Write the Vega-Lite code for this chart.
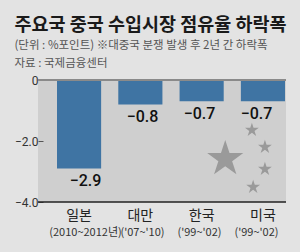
{
  "$schema": "https://vega.github.io/schema/vega-lite/v6.json",
  "width": 248,
  "height": 122,
  "autosize": {"type": "none"},
  "padding": {"left": 38, "top": 80, "right": 14, "bottom": 50},
  "background": "#e3e3e3",
  "config": {"view": {"fill": "#cfcfcf", "stroke": null}, "font": "Noto Sans CJK KR"},
  "title": {
    "text": "주요국 중국 수입시장 점유율 하락폭",
    "subtitle": ["(단위 : %포인트)  ※대중국 분쟁 발생 후 2년 간 하락폭", "자료 : 국제금융센터"],
    "anchor": "start",
    "frame": "bounds",
    "font": "Noto Sans CJK KR",
    "fontSize": 18.5,
    "fontWeight": "bold",
    "color": "#1a1a1a",
    "subtitleFont": "Noto Sans CJK KR",
    "subtitleFontSize": 11.5,
    "subtitleColor": "#555555",
    "subtitleLineHeight": 18,
    "subtitlePadding": 5,
    "offset": 5
  },
  "datasets": {
    "shares": [
      {"country": "일본", "period": "(2010~2012년)", "value": -2.9},
      {"country": "대만", "period": "('07~'10)", "value": -0.8},
      {"country": "한국", "period": "('99~'02)", "value": -0.7},
      {"country": "미국", "period": "('99~'02)", "value": -0.7}
    ],
    "bigStar": [{"px": 3.02, "py": -2.59}],
    "smallStars": [
      {"px": 3.45, "py": -1.64},
      {"px": 3.66, "py": -2.2},
      {"px": 3.66, "py": -2.92},
      {"px": 3.47, "py": -3.51}
    ]
  },
  "resolve": {"scale": {"x": "independent"}},
  "layer": [
    {
      "data": {"name": "bigStar"},
      "mark": {"type": "point", "filled": true, "opacity": 1, "color": "#9a9a9a", "size": 1444,
        "shape": "M0,-1 L0.2245,-0.309 L0.951,-0.309 L0.363,0.118 L0.588,0.809 L0,0.382 L-0.588,0.809 L-0.363,0.118 L-0.951,-0.309 L-0.2245,-0.309 Z"},
      "encoding": {
        "x": {"field": "px", "type": "quantitative", "scale": {"domain": [0, 4], "nice": false, "zero": false}, "axis": null},
        "y": {"field": "py", "type": "quantitative", "scale": {"domain": [-4, 0], "nice": false}}
      }
    },
    {
      "data": {"name": "smallStars"},
      "mark": {"type": "point", "filled": true, "opacity": 1, "color": "#9a9a9a", "size": 210,
        "shape": "M0,-1 L0.2245,-0.309 L0.951,-0.309 L0.363,0.118 L0.588,0.809 L0,0.382 L-0.588,0.809 L-0.363,0.118 L-0.951,-0.309 L-0.2245,-0.309 Z"},
      "encoding": {
        "x": {"field": "px", "type": "quantitative", "scale": {"domain": [0, 4], "nice": false, "zero": false}, "axis": null},
        "y": {"field": "py", "type": "quantitative"}
      }
    },
    {
      "data": {"name": "shares"},
      "mark": {"type": "bar", "color": "#3f74a3"},
      "encoding": {
        "x": {"field": "country", "type": "nominal", "sort": null,
          "scale": {"range": [19, 247], "paddingInner": 0.28, "paddingOuter": 0},
          "axis": {"title": null, "domain": false, "ticks": false, "labelAngle": 0, "labelFontSize": 14, "labelColor": "#222222", "labelPadding": 6, "labelFont": "Noto Sans CJK KR"}},
        "y": {"field": "value", "type": "quantitative",
          "axis": {"title": null, "values": [0, -2, -4], "domain": false, "grid": false, "tickSize": -5, "tickColor": "#555555",
            "labelExpr": "datum.value == 0 ? '0' : format(datum.value, '.1f')",
            "labelFontSize": 12, "labelColor": "#333333", "labelFont": "Roboto", "labelPadding": 5}}
      }
    },
    {
      "data": {"name": "shares"},
      "mark": {"type": "text", "baseline": "middle", "dy": 31, "fontSize": 11, "color": "#333333", "font": "Noto Sans CJK KR"},
      "encoding": {
        "x": {"field": "country", "type": "nominal", "sort": null,
          "scale": {"range": [19, 247], "paddingInner": 0.28, "paddingOuter": 0},
          "axis": {"title": null, "domain": false, "labels": false, "ticks": true, "tickSize": -5, "tickWidth": 1.2, "tickColor": "#444444", "bandPosition": -0.19,
            "tickOpacity": {"condition": {"test": "datum.value === '일본'", "value": 0}, "value": 1}}},
        "y": {"datum": -4},
        "text": {"field": "period"}
      }
    },
    {
      "data": {"name": "shares"},
      "mark": {"type": "text", "baseline": "middle", "dy": 13, "fontSize": 16, "font": "Roboto", "fontWeight": 500, "color": "#111111"},
      "encoding": {
        "x": {"field": "country", "type": "nominal", "sort": null,
          "scale": {"range": [19, 247], "paddingInner": 0.28, "paddingOuter": 0},
          "axis": null},
        "y": {"field": "value", "type": "quantitative"},
        "text": {"field": "value", "format": ".1f"}
      }
    },
    {
      "data": {"values": [{}]},
      "mark": {"type": "rule", "color": "#8a8a8a", "strokeWidth": 2},
      "encoding": {"y": {"datum": 0}}
    },
    {
      "data": {"values": [{}]},
      "mark": {"type": "rule", "color": "#222222", "strokeWidth": 1.5},
      "encoding": {"y": {"datum": -4}}
    }
  ]
}
